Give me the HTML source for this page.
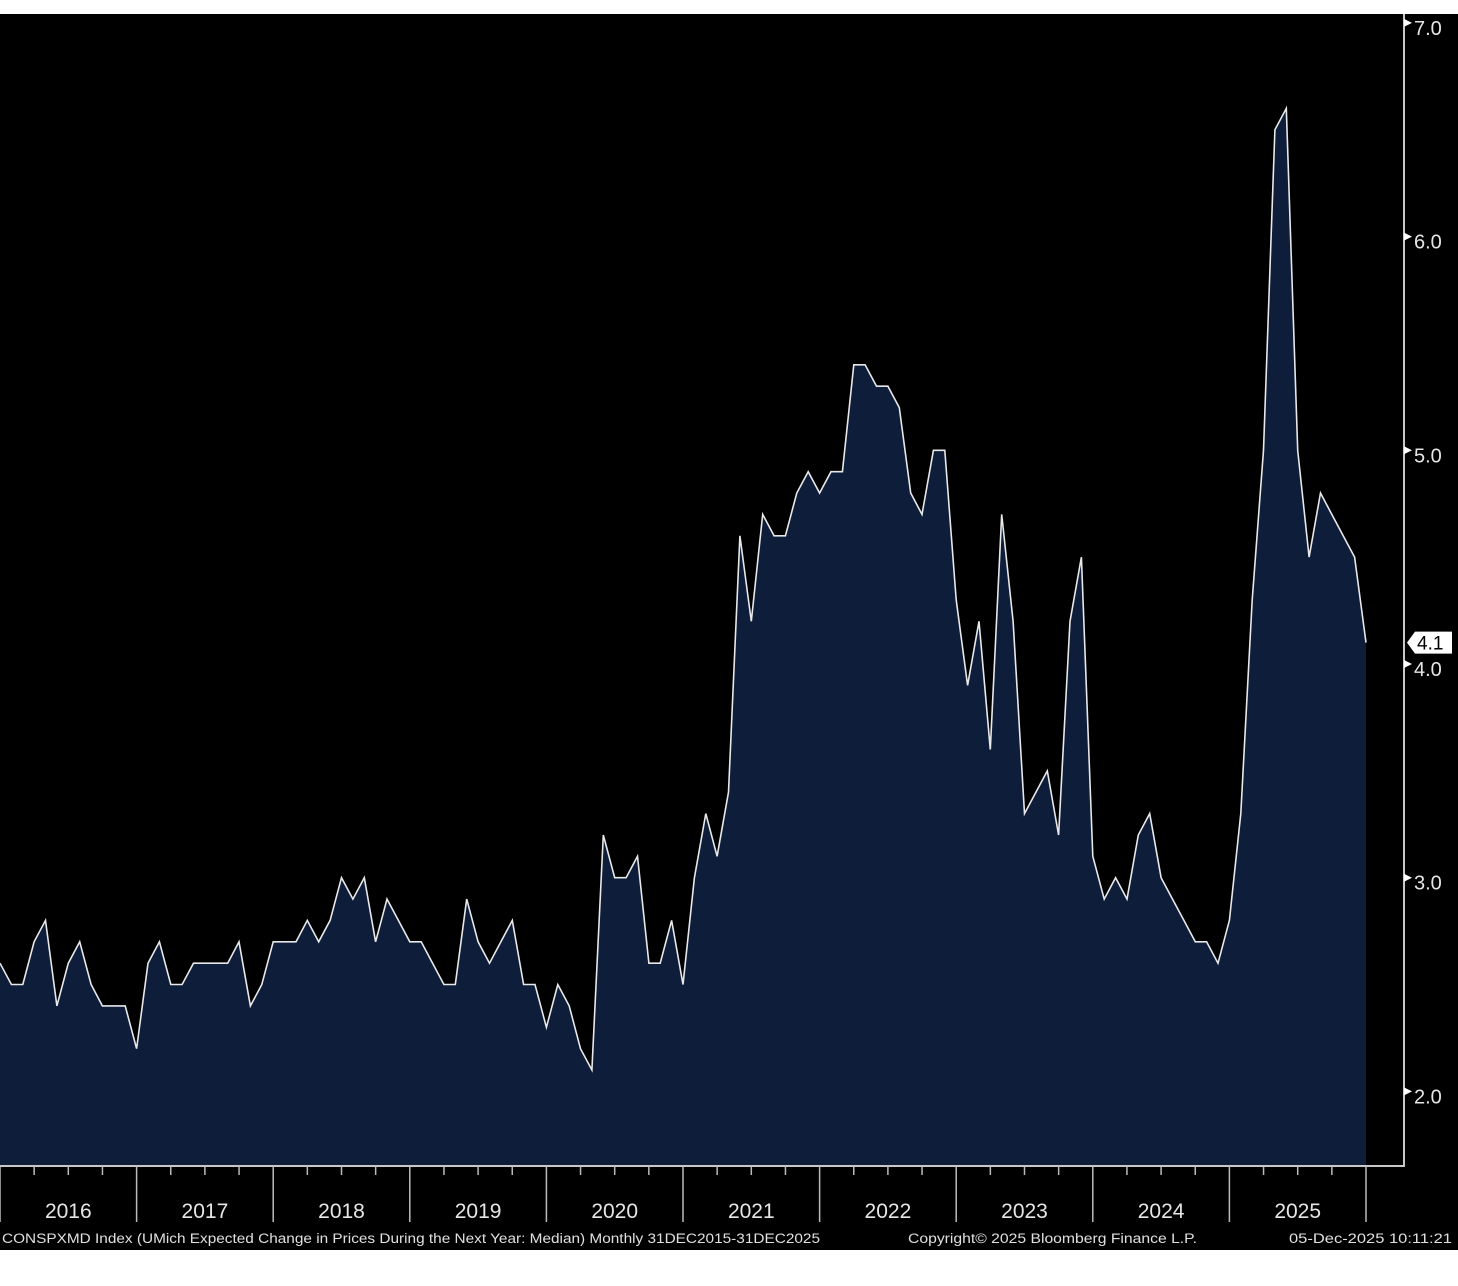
<!DOCTYPE html>
<html><head><meta charset="utf-8"><style>
html,body{margin:0;padding:0;background:#fff;}
svg{display:block;font-family:"Liberation Sans",sans-serif;}
</style></head><body>
<svg width="1458" height="1286">
<rect x="0" y="14" width="1458" height="1236" fill="#000"/>
<g id="plot"></g>
</svg>
<script>
const years = ["2016","2017","2018","2019","2020","2021","2022","2023","2024","2025"];
const yTicks = [2.0,3.0,4.0,5.0,6.0,7.0];
const values = [2.6,
2.5,2.5,2.7,2.8,2.4,2.6,2.7,2.5,2.4,2.4,2.4,2.2,
2.6,2.7,2.5,2.5,2.6,2.6,2.6,2.6,2.7,2.4,2.5,2.7,
2.7,2.7,2.8,2.7,2.8,3.0,2.9,3.0,2.7,2.9,2.8,2.7,
2.7,2.6,2.5,2.5,2.9,2.7,2.6,2.7,2.8,2.5,2.5,2.3,
2.5,2.4,2.2,2.1,3.2,3.0,3.0,3.1,2.6,2.6,2.8,2.5,
3.0,3.3,3.1,3.4,4.6,4.2,4.7,4.6,4.6,4.8,4.9,4.8,
4.9,4.9,5.4,5.4,5.3,5.3,5.2,4.8,4.7,5.0,5.0,4.3,
3.9,4.2,3.6,4.7,4.2,3.3,3.4,3.5,3.2,4.2,4.5,3.1,
2.9,3.0,2.9,3.2,3.3,3.0,2.9,2.8,2.7,2.7,2.6,2.8,
3.3,4.3,5.0,6.5,6.6,5.0,4.5,4.8,4.7,4.6,4.5,4.1];
const NS="http://www.w3.org/2000/svg";
const g=document.getElementById('plot');
const x0=0, mw=1366/120, axisX=1404, axisY=1166;
const X=i=>x0+i*mw;
const Y=v=>664-(v-4)*213.7;
function mk(t,a){const e=document.createElementNS(NS,t);for(const k in a)e.setAttribute(k,a[k]);g.appendChild(e);return e;}
let d="M"+X(0)+","+axisY;
values.forEach((v,i)=>{d+=" L"+X(i).toFixed(1)+","+Y(v).toFixed(1);});
d+=" L"+X(values.length-1)+","+axisY+" Z";
const area=mk('path',{d:d,fill:'#0d1d3a'});


const line=mk('polyline',{points:values.map((v,i)=>X(i).toFixed(1)+","+Y(v).toFixed(1)).join(" "),fill:'none',stroke:'#e8e8e8','stroke-width':1.6});


const ax=mk('path',{d:`M0,${axisY} H${axisX} V14`,stroke:'#c8c8c8','stroke-width':2,fill:'none'});


yTicks.forEach(v=>{
  const y=Y(v);
  const tr=mk('path',{d:`M${axisX},${y-4} L${axisX+8},${y} L${axisX},${y+4} Z`,fill:'#fff'});
  
  
  const t=mk('text',{x:axisX+10,y:y+12,fill:'#e6e6e6','font-size':20});
  t.textContent=v.toFixed(1);
  
  
});
for(let q=0;q<=40;q++){
  const x=X(q*3);
  const big=q%4===0;
  const tk=mk('line',{x1:x,x2:x,y1:axisY,y2:axisY+(big?56:9),stroke:'#bbb','stroke-width':1.5});
  
  
}
years.forEach((yr,i)=>{
  const t=mk('text',{x:X(i*12+6),y:1218,fill:'#e6e6e6','font-size':21,'text-anchor':'middle'});
  t.textContent=yr;
  
  
});
const last=values[values.length-1], ly=Y(last);
const lb=mk('path',{d:`M1407,${ly} L1415,${ly-11} H1452 V${ly+11} H1415 Z`,fill:'#fff'});


const lt=mk('text',{x:1417,y:ly+7,fill:'#000','font-size':19});
lt.textContent=last.toFixed(1);


[[2,'CONSPXMD Index (UMich Expected Change in Prices During the Next Year: Median) Monthly 31DEC2015-31DEC2025',818,'footer-description'],
 [908,'Copyright© 2025 Bloomberg Finance L.P.',289,'footer-copyright'],
 [1289,'05-Dec-2025 10:11:21',163,'footer-timestamp']].forEach(f=>{
  const t=mk('text',{x:f[0],y:1243,fill:'#e0e0e0','font-size':13.5,textLength:f[2],lengthAdjust:'spacingAndGlyphs'});
  t.textContent=f[1];
  
  
});
</script>
</body></html>
